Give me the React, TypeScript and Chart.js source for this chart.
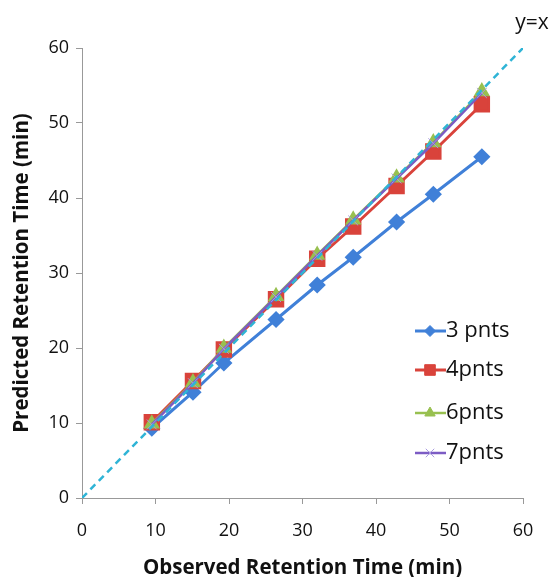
import React, { useEffect, useRef } from "react";
import { Chart, PointElement, registerables } from "chart.js";

Chart.register(...registerables);

const observedX = [9.5, 15.1, 19.3, 26.4, 32.0, 36.9, 42.8, 47.8, 54.4];
const pnts3 = [9.3, 14.1, 18.0, 23.8, 28.4, 32.1, 36.8, 40.5, 45.5];
const pnts4 = [10.1, 15.6, 19.8, 26.5, 31.9, 36.2, 41.6, 46.2, 52.5];
const pnts6 = [9.9, 15.4, 20.0, 26.9, 32.4, 37.1, 42.7, 47.4, 54.2];
const pnts7 = [9.8, 15.3, 19.9, 26.8, 32.3, 37.0, 42.6, 47.3, 54.0];
const refLine = [0, 60];
const seriesLabels = ["3 pnts", "4pnts", "6pnts", "7pnts"];
const refLabel = "y=x";
const xTitle = "Observed Retention Time (min)";
const yTitle = "Predicted Retention Time (min)";

const FONT = "'Open Sans', sans-serif";

const toPts = (ys: number[]) => observedX.map((x, i) => ({ x, y: ys[i] }));

export default function App() {
  const ref = useRef<HTMLCanvasElement | null>(null);
  useEffect(() => {
    if (!ref.current) return;
    const legendPlugin = {
      id: "customLegend",
      afterDraw(chart: any) {
        const ctx = chart.ctx;
        const rows = [331, 370, 413, 453];
        const legendRadius = [5.5, 7.5, 6, 6];
        ctx.save();
        [0, 1, 2, 3].forEach((i: number) => {
          const ds = chart.data.datasets[i];
          const y = rows[i];
          ctx.strokeStyle = ds.borderColor;
          ctx.lineWidth = ds.borderWidth;
          ctx.setLineDash([]);
          ctx.beginPath();
          ctx.moveTo(415, y);
          ctx.lineTo(446, y);
          ctx.stroke();
          const p: any = new (PointElement as any)({
            x: 430,
            y,
            options: {
              pointStyle: ds.pointStyle,
              rotation: 0,
              radius: legendRadius[i],
              borderWidth: ds.pointBorderWidth || 1,
              backgroundColor: ds.backgroundColor,
              borderColor: ds.pointBorderColor || ds.borderColor,
            },
          });
          p.draw(ctx, chart.chartArea);
          ctx.fillStyle = "#111";
          ctx.font = `22px ${FONT}`;
          ctx.textBaseline = "middle";
          ctx.textAlign = "left";
          ctx.fillText(seriesLabels[i], 446, y);
        });
        const xs = chart.scales.x;
        const ys = chart.scales.y;
        ctx.font = `21px ${FONT}`;
        ctx.fillStyle = "#111";
        ctx.textAlign = "center";
        ctx.textBaseline = "middle";
        ctx.fillText(refLabel, xs.getPixelForValue(refLine[1]) + 9, ys.getPixelForValue(refLine[1]) - 25);
        ctx.restore();
      },
    };
    const chart = new Chart(ref.current, {
      type: "scatter",
      data: {
        datasets: [
          {
            label: seriesLabels[0],
            data: toPts(pnts3),
            showLine: true,
            borderColor: "#4080d8",
            backgroundColor: "#4080d8",
            borderWidth: 3,
            pointStyle: "rectRot",
            pointRadius: 6.5,
            order: 4,
          },
          {
            label: seriesLabels[1],
            data: toPts(pnts4),
            showLine: true,
            borderColor: "#d9433b",
            backgroundColor: "#d9433b",
            borderWidth: 3,
            pointStyle: "rect",
            pointRadius: 9.5,
            order: 3,
          },
          {
            label: seriesLabels[2],
            data: toPts(pnts6),
            showLine: true,
            borderColor: "#98c050",
            backgroundColor: "#98c050",
            borderWidth: 2.5,
            pointStyle: "triangle",
            pointRadius: 7,
            order: 2,
          },
          {
            label: seriesLabels[3],
            data: toPts(pnts7),
            showLine: true,
            borderColor: "#7c5cc4",
            backgroundColor: "#7c5cc4",
            borderWidth: 2.5,
            pointStyle: "crossRot",
            pointRadius: 7,
            pointBorderWidth: 1,
            pointBorderColor: "#a99be0",
            order: 1,
          },
          {
            label: refLabel,
            data: refLine.map((v) => ({ x: v, y: v })),
            showLine: true,
            borderColor: "#2fb4d6",
            backgroundColor: "#2fb4d6",
            borderWidth: 2.5,
            borderDash: [7, 5],
            pointRadius: 0,
            order: 0,
          },
        ],
      },
      options: {
        responsive: false,
        animation: false,
        layout: { padding: { left: 0, right: 30, top: 48, bottom: 0 } },
        plugins: { legend: { display: false }, tooltip: { enabled: false } },
        scales: {
          x: {
            type: "linear",
            min: 0,
            max: 60,
            afterFit: (s: any) => { s.height = 79; },
            ticks: { stepSize: 10, color: "#111", font: { size: 18, family: FONT }, padding: 16 },
            grid: { drawOnChartArea: false, drawTicks: true, tickLength: 6, color: "#999" },
            border: { color: "#999", width: 1 },
            title: { display: true, text: xTitle, color: "#111", font: { size: 20.5, weight: "bold", family: FONT }, padding: { top: 4, bottom: -3 } },
          },
          y: {
            type: "linear",
            min: 0,
            max: 60,
            afterFit: (s: any) => { s.width = 82; },
            ticks: { stepSize: 10, color: "#111", font: { size: 18, family: FONT }, padding: 7 },
            grid: { drawOnChartArea: false, drawTicks: true, tickLength: 6, color: "#999" },
            border: { color: "#999", width: 1 },
            title: { display: true, text: yTitle, color: "#111", font: { size: 20.5, weight: "bold", family: FONT }, padding: { top: 10, bottom: 4 } },
          },
        },
      },
      plugins: [legendPlugin],
    } as any);
    return () => chart.destroy();
  }, []);
  return (
    <div style={{ position: "absolute", left: 0, top: 0, width: 553, height: 577, background: "#fff" }}>
      <canvas ref={ref} width={553} height={577} />
    </div>
  );
}
